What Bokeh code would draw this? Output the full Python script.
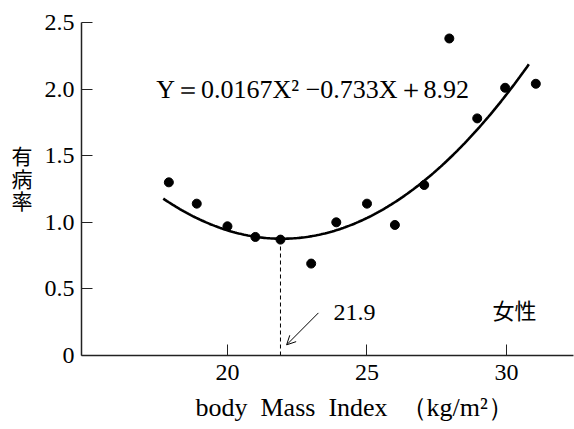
import numpy as np
from bokeh.plotting import figure
from bokeh.models import Label, Arrow, OpenHead, FixedTicker, Range1d, Title
from bokeh.embed import file_html
from bokeh.resources import INLINE

# data
bmi = [17.9, 18.9, 20.0, 21.0, 21.9, 23.0, 23.9, 25.0, 26.0, 27.05, 27.95, 28.95, 29.95, 31.05]
rate = [1.30, 1.14, 0.97, 0.89, 0.87, 0.69, 1.00, 1.14, 0.98, 1.28, 2.38, 1.78, 2.01, 2.04]

# fitted curve printed on the chart: Y = 0.0167X^2 - 0.733X + 8.92
coef_a, coef_b, coef_c = 0.0167, -0.733, 8.92
curve_x_start, curve_x_end = 17.7, 30.8
optimum_bmi = 21.9

x_ticks = [20, 25, 30]
y_ticks = [0, 0.5, 1.0, 1.5, 2.0, 2.5]
y_tick_labels = {0: "0", 0.5: "0.5", 1.0: "1.0", 1.5: "1.5", 2.0: "2.0", 2.5: "2.5"}

SERIF = "Liberation Serif"
CJK = "Noto Sans CJK JP"

p = figure(width=574, height=429, output_backend="svg", toolbar_location=None,
           x_range=Range1d(14.77, 32.4), y_range=Range1d(0, 2.5),
           min_border_left=81, min_border_right=1, min_border_top=22, min_border_bottom=73)
p.outline_line_color = None
p.xgrid.visible = False
p.ygrid.visible = False
p.background_fill_color = "white"
p.border_fill_color = "white"

for ax, ticks in ((p.xaxis[0], x_ticks), (p.yaxis[0], y_ticks)):
    ax.ticker = FixedTicker(ticks=ticks)
    ax.major_tick_in = 11
    ax.major_tick_out = 0
    ax.minor_tick_in = 0
    ax.minor_tick_out = 0
    ax.axis_line_color = "#222222"
    ax.axis_line_width = 1.5
    ax.major_tick_line_color = "#222222"
    ax.major_tick_line_width = 1
    ax.major_label_text_font = SERIF
    ax.major_label_text_font_size = "24px"
    ax.major_label_text_color = "black"
p.yaxis[0].major_label_overrides = y_tick_labels
p.xaxis[0].major_label_standoff = 9
p.yaxis[0].major_label_standoff = 7

# y axis label: stacked upright characters (blank last line lifts the stack)
p.yaxis[0].axis_label = "有\n病\n率\n\u3000"
p.yaxis[0].axis_label_orientation = "horizontal"
p.yaxis[0].axis_label_text_font = CJK
p.yaxis[0].axis_label_text_font_size = "21px"
p.yaxis[0].axis_label_text_line_height = 0.75
p.yaxis[0].axis_label_text_font_style = "normal"
p.yaxis[0].axis_label_text_color = "black"
p.yaxis[0].axis_label_standoff = 9

# x axis label as a title in the lower panel
p.add_layout(Title(text="body\u2002Mass\u2002Index\u2002\uff08kg/m\u00b2\uff09", align="left", offset=114,
                   text_font=SERIF, text_font_size="26px", text_font_style="normal",
                   text_color="black", standoff=16), "below")

# curve
cx = np.linspace(curve_x_start, curve_x_end, 200)
cy = coef_a * cx ** 2 + coef_b * cx + coef_c
p.line(cx, cy, line_color="black", line_width=2.6)

# points
p.scatter(bmi, rate, size=9, color="black")

# dashed line at optimum
opt_y = coef_a * optimum_bmi ** 2 + coef_b * optimum_bmi + coef_c
p.line([optimum_bmi, optimum_bmi], [0, opt_y], line_color="black", line_width=1, line_dash="4 3")

# arrow
p.add_layout(Arrow(end=OpenHead(size=9, line_width=1, line_color="black"),
                   x_start=23.26, y_start=0.32, x_end=22.12, y_end=0.08,
                   line_color="black", line_width=1))

def add_label(x, y, text, font, size, align="left"):
    p.add_layout(Label(x=x, y=y, text=text, text_font=font, text_font_size=size,
                       text_align=align, text_baseline="middle", text_color="black"))

add_label(17.45, 2.0, "Y\uff1d0.0167X\u00b2 \u22120.733X\uff0b8.92", SERIF, "26px")
add_label(23.8, 0.32, "21.9", SERIF, "24px")
add_label(29.5, 0.35, "女性", CJK, "22px")

open("out.html", "w").write(file_html(p, INLINE))
